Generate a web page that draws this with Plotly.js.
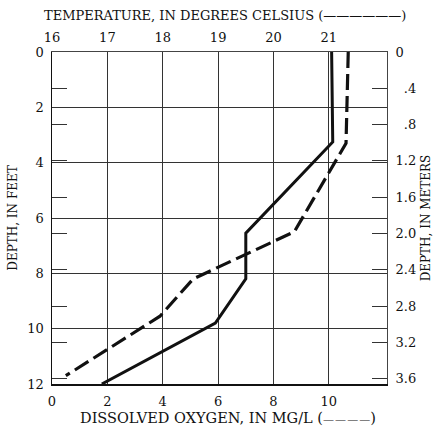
<!DOCTYPE html>
<html>
<head>
<meta charset="utf-8">
<script src="https://cdn.plot.ly/plotly-3.0.1.min.js"></script>
<style>html,body{margin:0;padding:0;background:#fff;}#chart{width:440px;height:431px;}</style>
</head>
<body>
<div id="chart"></div>
<script>
// Temperature profile (solid line)
const tempDepthFt = [0, 3.25, 6.55, 8.2, 9.8, 12];
const tempC = [21.05, 21.07, 19.5, 19.5, 18.95, 16.9];

// Dissolved oxygen profile (dashed line)
const doDepthFt = [0, 3.3, 6.5, 8.2, 9.55, 11.7];
const doMgL = [10.7, 10.62, 8.75, 5.1, 3.9, 0.5];

// Axis ticks
const doTicks = [0, 2, 4, 6, 8, 10];
const tempTicks = [16, 17, 18, 19, 20, 21];
const feetTicks = [0, 2, 4, 6, 8, 10, 12];
const meterTicks = [0, 0.4, 0.8, 1.2, 1.6, 2.0, 2.4, 2.8, 3.2, 3.6];
const meterLabels = ['0', '\u2007.4', '\u2007.8', '1.2', '1.6', '2.0', '2.4', '2.8', '3.2', '3.6'];

// Titles
const tempTitle = 'TEMPERATURE, IN DEGREES CELSIUS (\u2014\u2014\u2014\u2014\u2014\u2014)';
const doTitle = 'DISSOLVED OXYGEN, IN MG/L (<span style="font-size:11px">\u2014\u200a\u2014\u200a\u2014\u200a\u2014</span>)';
const feetTitle = 'DEPTH, IN FEET';
const meterTitle = 'DEPTH, IN METERS';

const FONT = 'DejaVu Serif, Liberation Serif, serif';
const maxFt = 12;
const ftToM = 0.3048;

const W = 440, H = 431;
const M = {l: 52, r: 53, t: 52, b: 47};
const pw = W - M.l - M.r, ph = H - M.t - M.b;
const px = v => (v - M.l) / pw;          // pixel x -> paper x
const py = v => (H - M.b - v) / ph;      // pixel y -> paper y

const traces = [
  {
    x: doMgL, y: doDepthFt, xaxis: 'x', yaxis: 'y', mode: 'lines',
    line: {color: '#111', width: 3.2, dash: '16px,6px'}, hoverinfo: 'skip'
  },
  {
    x: tempC, y: tempDepthFt, xaxis: 'x2', yaxis: 'y', mode: 'lines',
    line: {color: '#111', width: 3}, hoverinfo: 'skip'
  },
  {x: [null], y: [null], xaxis: 'x', yaxis: 'y3', mode: 'lines', hoverinfo: 'skip'},
  {x: [null], y: [null], xaxis: 'x', yaxis: 'y2', mode: 'lines', hoverinfo: 'skip'}
];

const layout = {
  width: W, height: H,
  margin: {l: M.l, r: M.r, t: M.t, b: M.b, pad: 0},
  paper_bgcolor: '#fff', plot_bgcolor: '#fff',
  showlegend: false,
  font: {family: FONT, size: 13, color: '#111'},
  xaxis: {
    range: [0, 12.1], tickvals: doTicks, ticktext: doTicks.map(String),
    showgrid: true, gridcolor: '#333', gridwidth: 1,
    showline: true, linecolor: '#111', linewidth: 1.5,
    ticks: '', zeroline: false, ticklabelstandoff: 5
  },
  xaxis2: {
    overlaying: 'x', side: 'top', anchor: 'y',
    range: [16, 22.05], tickvals: tempTicks, ticktext: tempTicks.map(String),
    showgrid: false, showline: true, linecolor: '#444', linewidth: 1,
    ticks: 'inside', ticklen: 4, tickcolor: '#333', zeroline: false, ticklabelstandoff: 4
  },
  yaxis: {
    range: [maxFt, 0], tickvals: feetTicks, ticktext: feetTicks.map(String),
    showgrid: true, gridcolor: '#333', gridwidth: 1,
    showline: true, linecolor: '#111', linewidth: 1.5,
    ticks: '', zeroline: false, ticklabelstandoff: 4,
    title: {text: feetTitle, font: {size: 12, family: FONT}, standoff: 7}
  },
  yaxis2: {
    overlaying: 'y', side: 'right', anchor: 'x',
    range: [maxFt * ftToM, 0], tickvals: meterTicks, ticktext: meterLabels,
    showgrid: false, showline: true, linecolor: '#444', linewidth: 1,
    ticks: 'inside', ticklen: 15, tickcolor: '#333', zeroline: false, ticklabelstandoff: 5,
    title: {text: meterTitle, font: {size: 12, family: FONT}, standoff: 6}
  },
  yaxis3: {
    overlaying: 'y', side: 'left', anchor: 'x',
    range: [maxFt * ftToM, 0], tickvals: meterTicks,
    showgrid: false, showline: false, showticklabels: false,
    ticks: 'inside', ticklen: 15, tickcolor: '#333', zeroline: false
  },
  annotations: [
    {text: tempTitle, xref: 'paper', yref: 'paper', x: px(42), y: py(16),
     xanchor: 'left', yanchor: 'middle', showarrow: false, font: {size: 13, family: FONT}},
    {text: doTitle, xref: 'paper', yref: 'paper', x: px(78), y: py(418),
     xanchor: 'left', yanchor: 'middle', showarrow: false, font: {size: 14.5, family: FONT}}
  ]
};

Plotly.newPlot('chart', traces, layout, {displayModeBar: false, staticPlot: true});
</script>
</body>
</html>
